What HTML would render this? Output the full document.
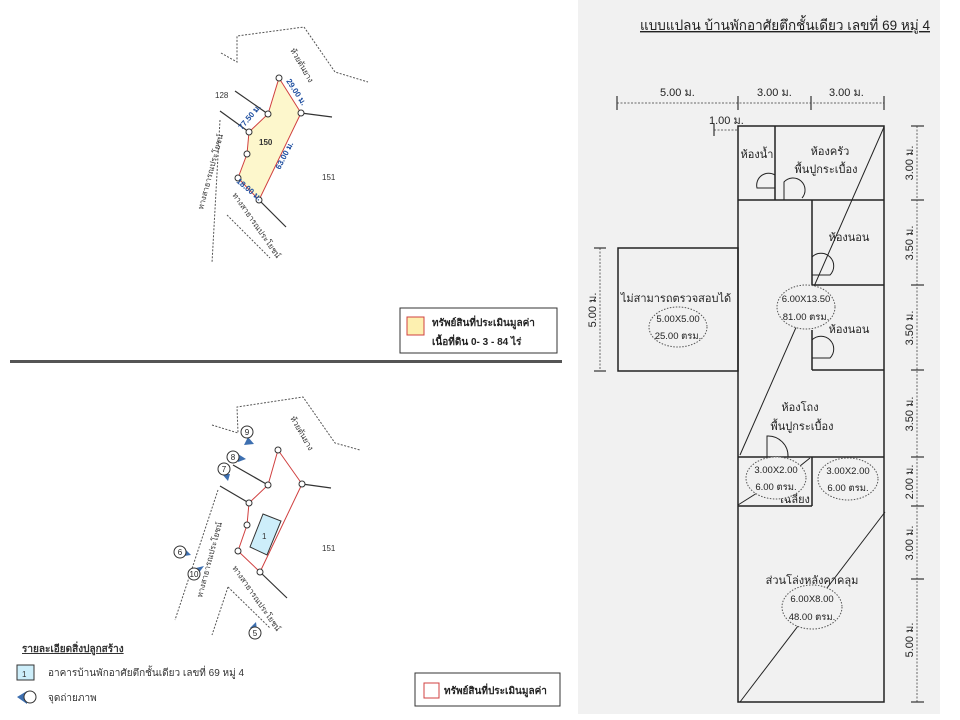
<!DOCTYPE html>
<html><head><meta charset="utf-8"><style>
html,body{margin:0;padding:0;background:#fff;}
svg{display:block;font-family:"Liberation Sans","Noto Sans CJK SC",sans-serif;}
</style></head><body>
<svg width="960" height="720" viewBox="0 0 960 720" xmlns="http://www.w3.org/2000/svg">
<rect x="0" y="0" width="960" height="720" fill="#fff"/>
<rect x="578" y="0" width="362" height="714" fill="#f1f1f1"/>

<!-- ===== TOP MAP ===== -->
<g fill="none" stroke="#555" stroke-width="1" stroke-dasharray="2,1.5">
<polyline points="221,53 237,62 237,36 304,27 335,72 368,82"/>
<polyline points="220,120 212,263"/>
<polyline points="227,215 270,258"/>
</g>
<g stroke="#333" stroke-width="1.2">
<line x1="235" y1="91" x2="268" y2="114"/>
<line x1="220" y1="111" x2="249" y2="132"/>
<line x1="301" y1="113" x2="332" y2="117"/>
<line x1="259" y1="200" x2="286" y2="227"/>
</g>
<polygon points="279,78 301,113 259,200 238,178 247,154 249,132 268,114" fill="#fdf7cc" stroke="#d04040" stroke-width="1"/>
<g fill="#fff" stroke="#333" stroke-width="1">
<circle cx="279" cy="78" r="3"/><circle cx="301" cy="113" r="3"/><circle cx="259" cy="200" r="3"/><circle cx="238" cy="178" r="3"/><circle cx="247" cy="154" r="3"/><circle cx="249" cy="132" r="3"/><circle cx="268" cy="114" r="3"/>
</g>
<g font-size="8" fill="#333">
<text x="215" y="98">128</text>
<text x="259" y="145" font-weight="bold">150</text>
<text x="322" y="180">151</text>
<text transform="translate(290,50) rotate(60)" font-size="8">ห้วยต้นยาง</text>
<text transform="translate(203,210) rotate(-75)" font-size="8">ทางสาธารณประโยชน์</text>
<text transform="translate(232,195) rotate(55)" font-size="8">ทางสาธารณประโยชน์</text>
</g>
<g font-size="8" fill="#1f4fa0" font-weight="bold">
<text transform="translate(286,81) rotate(57)">29.00 ม.</text>
<text transform="translate(242,130) rotate(-50)">77.50 ม.</text>
<text transform="translate(280,170) rotate(-63)">63.00 ม.</text>
<text transform="translate(236,182) rotate(40)">18.00 ม.</text>
</g>
<rect x="400" y="308" width="157" height="45" fill="#fff" stroke="#333" stroke-width="1"/>
<rect x="407" y="317" width="17" height="18" fill="#fdf0b0" stroke="#d04040" stroke-width="1"/>
<text x="432" y="326" font-size="10" font-weight="bold" fill="#222">ทรัพย์สินที่ประเมินมูลค่า</text>
<text x="432" y="345" font-size="10" font-weight="bold" fill="#222">เนื้อที่ดิน  0- 3 - 84 ไร่</text>

<rect x="10" y="360" width="552" height="3" fill="#555"/>

<!-- ===== BOTTOM MAP ===== -->
<g fill="none" stroke="#555" stroke-width="1" stroke-dasharray="2,1.5">
<polyline points="212,425 238,433 237,407 303,397 335,443 360,450"/>
<polyline points="218,490 175,620"/>
<polyline points="228,587 212,635"/>
<polyline points="228,587 270,628"/>
</g>
<g stroke="#333" stroke-width="1.2">
<line x1="233" y1="465" x2="268" y2="485"/>
<line x1="220" y1="486" x2="249" y2="503"/>
<line x1="302" y1="484" x2="331" y2="488"/>
<line x1="260" y1="572" x2="287" y2="598"/>
</g>
<polygon points="278,450 302,484 260,572 238,551 247,525 249,503 268,485" fill="none" stroke="#d04040" stroke-width="1"/>
<polygon points="263,514 281,521 267,555 250,547" fill="#cdeefa" stroke="#333" stroke-width="1"/>
<text x="262" y="539" font-size="8" fill="#333">1</text>
<g fill="#fff" stroke="#333" stroke-width="1">
<circle cx="278" cy="450" r="3"/><circle cx="302" cy="484" r="3"/><circle cx="260" cy="572" r="3"/><circle cx="238" cy="551" r="3"/><circle cx="247" cy="525" r="3"/><circle cx="249" cy="503" r="3"/><circle cx="268" cy="485" r="3"/>
</g>
<g font-size="8" fill="#333">
<text x="322" y="551">151</text>
<text transform="translate(290,418) rotate(60)">ห้วยต้นยาง</text>
<text transform="translate(202,598) rotate(-75)">ทางสาธารณประโยชน์</text>
<text transform="translate(232,568) rotate(55)">ทางสาธารณประโยชน์</text>
</g>
<!-- photo markers -->
<g font-size="8" fill="#222" text-anchor="middle">
<polygon points="248,437 254,444 244,445" fill="#3d6fb0"/><circle cx="247" cy="432" r="6" fill="#fff" stroke="#333"/><text x="247" y="435">9</text>
<polygon points="238,454 246,459 238,462" fill="#3d6fb0"/><circle cx="233" cy="457" r="6" fill="#fff" stroke="#333"/><text x="233" y="460">8</text>
<polygon points="222,474 230,474 228,481" fill="#3d6fb0"/><circle cx="224" cy="469" r="6" fill="#fff" stroke="#333"/><text x="224" y="472">7</text>
<polygon points="184,548 191,555 184,556" fill="#3d6fb0"/><circle cx="180" cy="552" r="6" fill="#fff" stroke="#333"/><text x="180" y="555">6</text>
<polygon points="196,568 204,566 198,574" fill="#3d6fb0"/><circle cx="194" cy="574" r="6" fill="#fff" stroke="#333"/><text x="194" y="577">10</text>
<polygon points="250,628 256,622 257,630" fill="#3d6fb0"/><circle cx="255" cy="633" r="6" fill="#fff" stroke="#333"/><text x="255" y="636">5</text>
</g>
<text x="22" y="652" font-size="10" font-weight="bold" fill="#333" text-decoration="underline">รายละเอียดสิ่งปลูกสร้าง</text>
<rect x="17" y="665" width="17" height="15" fill="#cdeefa" stroke="#333"/>
<text x="22" y="677" font-size="8" fill="#333">1</text>
<text x="48" y="676" font-size="10" fill="#333">อาคารบ้านพักอาศัยตึกชั้นเดียว เลขที่ 69 หมู่ 4</text>
<polygon points="17,697 27,691 27,704" fill="#3d6fb0"/>
<circle cx="30" cy="697" r="6" fill="#fff" stroke="#333"/>
<text x="48" y="701" font-size="10" fill="#333">จุดถ่ายภาพ</text>
<rect x="415" y="673" width="145" height="33" fill="#fff" stroke="#333"/>
<rect x="424" y="683" width="15" height="15" fill="#fff" stroke="#d04040"/>
<text x="444" y="694" font-size="10" font-weight="bold" fill="#222">ทรัพย์สินที่ประเมินมูลค่า</text>

<!-- ===== FLOOR PLAN ===== -->
<text x="640" y="30" font-size="14" fill="#222" text-decoration="underline" textLength="290" lengthAdjust="spacingAndGlyphs">แบบแปลน บ้านพักอาศัยตึกชั้นเดียว เลขที่ 69 หมู่ 4</text>
<g stroke="#666" stroke-width="1" stroke-dasharray="2,1.5" fill="none">
<line x1="617" y1="103" x2="884" y2="103"/>
<line x1="714" y1="130" x2="738" y2="130"/>
<line x1="917" y1="126" x2="917" y2="702"/>
<line x1="600" y1="248" x2="600" y2="371"/>
</g>
<g stroke="#333" stroke-width="1.2">
<line x1="617" y1="96" x2="617" y2="110"/><line x1="738" y1="96" x2="738" y2="110"/><line x1="811" y1="96" x2="811" y2="110"/><line x1="884" y1="96" x2="884" y2="110"/>
<line x1="714" y1="124" x2="714" y2="136"/>
<line x1="911" y1="126" x2="924" y2="126"/><line x1="911" y1="200" x2="924" y2="200"/><line x1="911" y1="285" x2="924" y2="285"/><line x1="911" y1="370" x2="924" y2="370"/><line x1="911" y1="457" x2="924" y2="457"/><line x1="911" y1="506" x2="924" y2="506"/><line x1="911" y1="579" x2="924" y2="579"/><line x1="911" y1="702" x2="924" y2="702"/>
<line x1="594" y1="248" x2="606" y2="248"/><line x1="594" y1="371" x2="606" y2="371"/>
</g>
<g font-size="11" fill="#222">
<text x="660" y="96">5.00 ม.</text>
<text x="757" y="96">3.00 ม.</text>
<text x="829" y="96">3.00 ม.</text>
<text x="709" y="124">1.00 ม.</text>
<g text-anchor="middle">
<text transform="translate(913,163) rotate(-90)">3.00 ม.</text>
<text transform="translate(913,243) rotate(-90)">3.50 ม.</text>
<text transform="translate(913,328) rotate(-90)">3.50 ม.</text>
<text transform="translate(913,414) rotate(-90)">3.50 ม.</text>
<text transform="translate(913,482) rotate(-90)">2.00 ม.</text>
<text transform="translate(913,543) rotate(-90)">3.00 ม.</text>
<text transform="translate(913,640) rotate(-90)">5.00 ม.</text>
<text transform="translate(596,310) rotate(-90)">5.00 ม.</text>
</g>
</g>
<g stroke="#222" stroke-width="1.5" fill="none">
<rect x="738" y="126" width="146" height="576"/>
<line x1="738" y1="200" x2="884" y2="200"/>
<line x1="775" y1="126" x2="775" y2="200"/>
<line x1="812" y1="200" x2="812" y2="285"/>
<line x1="812" y1="285" x2="884" y2="285"/>
<line x1="812" y1="330" x2="812" y2="370"/>
<line x1="812" y1="370" x2="884" y2="370"/>
<line x1="738" y1="457" x2="884" y2="457"/>
<line x1="812" y1="457" x2="812" y2="506"/>
<line x1="738" y1="506" x2="812" y2="506"/>
<rect x="618" y="248" width="120" height="123"/>
</g>
<g stroke="#222" stroke-width="1" fill="none">
<line x1="884" y1="127" x2="740" y2="455"/>
<line x1="740" y1="702" x2="885" y2="512"/>
<line x1="738" y1="505" x2="757" y2="493"/>
<line x1="810" y1="458" x2="800" y2="466"/>
<path d="M775,175 A12,12 0 0 0 757,188 L775,188"/>
<path d="M784,200 L784,182 A12,12 0 0 1 802,198"/>
<path d="M812,257 A12,12 0 0 1 830,275 L812,275"/>
<path d="M812,340 A12,12 0 0 1 830,358 L812,358"/>
<path d="M767,457 L767,436 A20,20 0 0 1 788,457"/>
</g>
<g font-size="11" fill="#222" text-anchor="middle">
<text x="757" y="158">ห้องน้ำ</text>
<text x="830" y="155">ห้องครัว</text>
<text x="826" y="173">พื้นปูกระเบื้อง</text>
<text x="849" y="241">ห้องนอน</text>
<text x="849" y="333">ห้องนอน</text>
<text x="800" y="411">ห้องโถง</text>
<text x="802" y="430">พื้นปูกระเบื้อง</text>
<text x="795" y="503">เฉลียง</text>
<text x="676" y="302">ไม่สามารถตรวจสอบได้</text>
<text x="812" y="584">ส่วนโล่งหลังคาคลุม</text>
</g>
<g fill="#f1f1f1" stroke="#555" stroke-width="1" stroke-dasharray="1.5,1.5">
<ellipse cx="678" cy="327" rx="29" ry="20"/>
<ellipse cx="806" cy="307" rx="29" ry="22"/>
<ellipse cx="776" cy="478" rx="30" ry="21"/>
<ellipse cx="848" cy="479" rx="30" ry="21"/>
<ellipse cx="812" cy="607" rx="30" ry="22"/>
</g>
<g font-size="9.5" fill="#222" text-anchor="middle">
<text x="678" y="322">5.00X5.00</text><text x="678" y="339">25.00 ตรม.</text>
<text x="806" y="302">6.00X13.50</text><text x="806" y="320">81.00 ตรม.</text>
<text x="776" y="473">3.00X2.00</text><text x="776" y="490">6.00 ตรม.</text>
<text x="848" y="474">3.00X2.00</text><text x="848" y="491">6.00 ตรม.</text>
<text x="812" y="602">6.00X8.00</text><text x="812" y="620">48.00 ตรม.</text>
</g>
</svg>
</body></html>
